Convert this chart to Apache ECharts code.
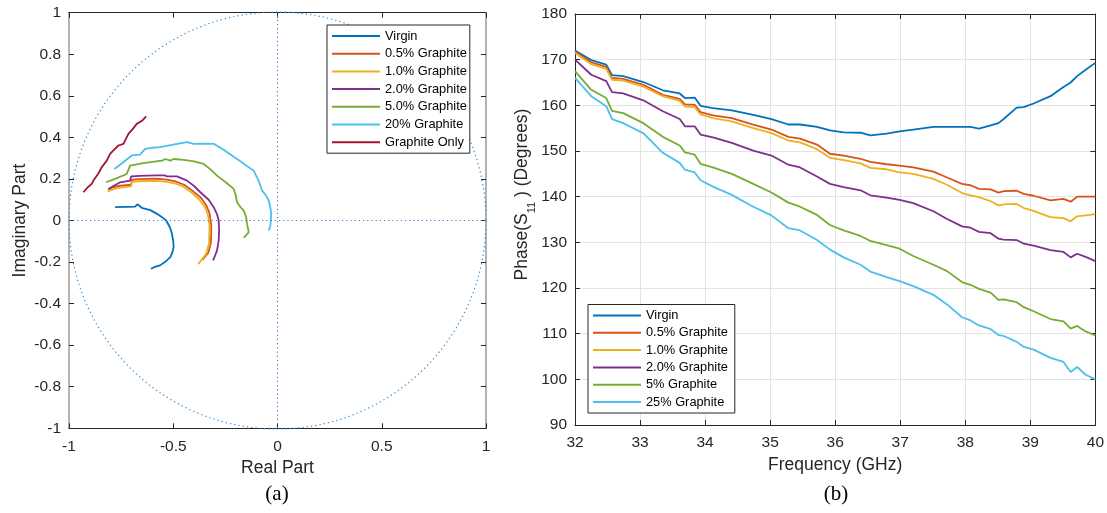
<!DOCTYPE html>
<html><head><meta charset="utf-8">
<script src="https://cdn.jsdelivr.net/npm/echarts@6/dist/echarts.min.js"></script>
<style>html,body{margin:0;padding:0;background:#fff}#c{width:1107px;height:513px}</style>
</head><body><div id="c"></div>
<script>
// ---------- (a) complex reflection coefficient: [real, imag] ----------
const virginZ = [[-0.779,0.064],[-0.72,0.066],[-0.683,0.067],[-0.672,0.078],[-0.651,0.061],[-0.610,0.050],[-0.578,0.032],[-0.552,0.015],[-0.534,0.0],[-0.515,-0.035],[-0.506,-0.064],[-0.500,-0.100],[-0.498,-0.128],[-0.505,-0.155],[-0.514,-0.176],[-0.540,-0.200],[-0.563,-0.216],[-0.585,-0.222],[-0.607,-0.232]];
const g05Z = [[-0.812,0.150],[-0.790,0.160],[-0.765,0.166],[-0.702,0.172],[-0.699,0.196],[-0.660,0.199],[-0.627,0.200],[-0.580,0.201],[-0.530,0.197],[-0.490,0.188],[-0.448,0.172],[-0.410,0.145],[-0.366,0.108],[-0.340,0.070],[-0.326,0.034],[-0.318,-0.024],[-0.318,-0.070],[-0.320,-0.110],[-0.332,-0.155],[-0.360,-0.190]];
const g10Z = [[-0.814,0.140],[-0.790,0.150],[-0.763,0.157],[-0.702,0.164],[-0.699,0.186],[-0.660,0.189],[-0.627,0.190],[-0.580,0.191],[-0.530,0.186],[-0.490,0.178],[-0.452,0.163],[-0.414,0.136],[-0.374,0.100],[-0.348,0.064],[-0.334,0.030],[-0.326,-0.024],[-0.327,-0.070],[-0.329,-0.112],[-0.342,-0.160],[-0.380,-0.210]];
const g20Z = [[-0.811,0.152],[-0.780,0.170],[-0.755,0.184],[-0.707,0.192],[-0.702,0.212],[-0.660,0.215],[-0.627,0.216],[-0.580,0.217],[-0.540,0.217],[-0.534,0.223],[-0.530,0.212],[-0.482,0.212],[-0.434,0.192],[-0.400,0.166],[-0.370,0.136],[-0.330,0.100],[-0.306,0.064],[-0.290,0.030],[-0.282,0.0],[-0.280,-0.050],[-0.282,-0.096],[-0.290,-0.144],[-0.300,-0.170],[-0.309,-0.192]];
const g50Z = [[-0.822,0.184],[-0.779,0.200],[-0.723,0.224],[-0.707,0.264],[-0.643,0.276],[-0.600,0.282],[-0.554,0.288],[-0.538,0.296],[-0.514,0.288],[-0.498,0.296],[-0.450,0.292],[-0.400,0.284],[-0.354,0.272],[-0.320,0.245],[-0.290,0.216],[-0.250,0.185],[-0.210,0.152],[-0.200,0.120],[-0.194,0.088],[-0.178,0.065],[-0.162,0.048],[-0.150,0.015],[-0.146,-0.016],[-0.138,-0.056],[-0.150,-0.070],[-0.162,-0.083]];
const g20pZ = [[-0.782,0.248],[-0.740,0.280],[-0.699,0.313],[-0.659,0.317],[-0.635,0.345],[-0.600,0.350],[-0.563,0.353],[-0.500,0.365],[-0.434,0.377],[-0.426,0.385],[-0.402,0.369],[-0.350,0.370],[-0.306,0.369],[-0.250,0.335],[-0.194,0.296],[-0.150,0.265],[-0.114,0.240],[-0.090,0.190],[-0.074,0.144],[-0.055,0.120],[-0.042,0.096],[-0.034,0.060],[-0.030,0.032],[-0.034,-0.024],[-0.042,-0.048]];
const gOnlyZ = [[-0.931,0.136],[-0.910,0.160],[-0.891,0.176],[-0.883,0.192],[-0.860,0.225],[-0.843,0.256],[-0.819,0.288],[-0.803,0.321],[-0.780,0.345],[-0.763,0.361],[-0.739,0.369],[-0.715,0.417],[-0.695,0.440],[-0.675,0.465],[-0.650,0.480],[-0.630,0.501]];
const namesA = ['Virgin','0.5% Graphite','1.0% Graphite','2.0% Graphite','5.0% Graphite','20% Graphite','Graphite Only'];

// ---------- (b) phase vs frequency ----------
const freq = [32,32.25,32.48,32.57,32.74,33.05,33.35,33.61,33.69,33.84,33.93,34.12,34.41,34.74,35.02,35.28,35.46,35.72,35.92,36.13,36.39,36.54,36.79,36.99,37.2,37.51,37.72,37.95,38.08,38.21,38.39,38.51,38.59,38.79,38.9,39.05,39.31,39.51,39.62,39.72,39.85,40];
const phVirgin = [172.0,169.9,168.9,166.6,166.4,165.1,163.3,162.6,161.6,161.7,159.9,159.4,158.9,157.9,157.0,155.8,155.8,155.3,154.5,154.1,154.0,153.4,153.8,154.3,154.7,155.3,155.3,155.3,155.3,154.9,155.6,156.1,157.0,159.5,159.6,160.4,162.0,164.0,165.0,166.4,167.8,169.3];
const ph05 = [171.8,169.4,168.4,166.0,165.8,164.5,162.3,161.4,160.2,160.1,158.5,157.8,157.2,155.8,154.7,153.1,152.7,151.4,149.4,149.0,148.3,147.6,147.1,146.8,146.4,145.5,144.2,142.8,142.5,141.7,141.6,140.9,141.2,141.3,140.6,140.2,139.2,139.5,138.9,140.0,140.0,140.0];
const ph10 = [171.5,169.0,168.0,165.6,165.4,164.1,162.0,161.0,159.7,159.6,158.0,157.2,156.5,155.0,153.9,152.3,151.9,150.4,148.5,148.0,147.3,146.3,146.0,145.3,145.0,143.9,142.6,140.8,140.3,139.9,139.0,138.1,138.3,138.4,137.5,136.9,135.5,135.3,134.6,135.7,135.9,136.2];
const ph20 = [170.0,166.7,165.3,162.9,162.6,161.1,158.7,157.0,155.4,155.4,153.6,153.0,151.8,150.1,149.0,147.0,146.4,144.4,142.8,142.1,141.4,140.3,139.8,139.3,138.6,136.8,135.1,133.5,133.2,132.3,132.0,130.8,130.6,130.5,129.7,129.3,128.3,127.9,126.7,127.5,126.8,125.9];
const ph50 = [167.5,163.4,161.6,158.8,158.3,156.1,153.1,151.2,149.7,149.2,147.2,146.4,145.0,142.8,140.9,138.7,137.8,136.0,133.8,132.6,131.4,130.3,129.4,128.6,127.0,125.1,123.7,121.3,120.7,119.8,119.0,117.4,117.5,116.9,115.8,114.9,113.2,112.7,111.1,111.7,110.5,109.6];
const ph250 = [166.0,162.0,159.8,157.0,156.1,153.9,149.6,147.4,145.9,145.3,143.6,142.2,140.4,137.8,135.9,133.1,132.6,130.5,128.4,126.7,125.1,123.6,122.4,121.5,120.4,118.5,116.4,113.6,112.9,111.8,111.0,109.7,109.5,108.2,107.1,106.5,104.7,103.8,101.6,102.7,101.0,100.0];
const namesB = ['Virgin','0.5% Graphite','1.0% Graphite','2.0% Graphite','5% Graphite','25% Graphite'];
const xTicksB = [32,40,1];
const yTicksB = [90,180,10];

const colors = ['#0072BD','#D95319','#EDB120','#7E2F8E','#77AC30','#4DBEEE','#A2142F'];
const FONT = '"Liberation Sans", Arial, sans-serif';
const TXT = '#262626';

const chart = echarts.init(document.getElementById('c'), null, {renderer:'canvas'});

const tick = {show:true, inside:true, length:5, lineStyle:{color:TXT}};
const lbl = {color:TXT, fontSize:15.5, fontFamily:FONT};
function mainAxis(extra){ return Object.assign({type:'value', axisTick:tick, axisLabel:lbl, splitLine:{show:false},
  nameTextStyle:{color:TXT, fontSize:17.5, fontFamily:FONT}}, extra); }
function boxAxis(extra){ return Object.assign({type:'value', axisTick:tick, axisLabel:{show:false}, splitLine:{show:false},
  axisLine:{show:true, onZero:false, lineStyle:{color:TXT}}}, extra); }

const seriesA = [virginZ,g05Z,g10Z,g20Z,g50Z,g20pZ,gOnlyZ].map((d,i)=>({
  type:'line', name:namesA[i], xAxisIndex:0, yAxisIndex:0, data:d, symbol:'none', smooth:false,
  lineStyle:{width:1.8, color:colors[i]}, itemStyle:{color:colors[i]}, z:3, animation:false
}));
seriesA[0].markLine = {silent:true, symbol:'none', label:{show:false}, animation:false,
  lineStyle:{color:'#2f86cf', type:[1.2,3], width:1.1}, data:[{xAxis:0},{yAxis:0}]};
seriesA.push({type:'custom', xAxisIndex:0, yAxisIndex:0, data:[[0,0]], silent:true, z:1, clip:false, animation:false,
  renderItem:function(params, api){
    const c = api.coord([0,0]); const e = api.coord([1,0]);
    return {type:'circle', shape:{cx:c[0], cy:c[1], r:e[0]-c[0]}, style:{fill:null, stroke:'#3a8fd3', lineWidth:1.2, lineDash:[1.3,3]}};
  }});

const phases = [phVirgin,ph05,ph10,ph20,ph50,ph250];
const seriesB = phases.map((v,i)=>({
  type:'line', name:namesB[i], xAxisIndex:2, yAxisIndex:2, data:freq.map((f,k)=>[f,v[k]]), symbol:'none',
  lineStyle:{width:1.8, color:colors[i]}, itemStyle:{color:colors[i]}, z:3, animation:false
}));

const legendCommon = {orient:'vertical', selectedMode:false, icon:'rect', itemWidth:48, itemHeight:2, backgroundColor:'#fff',
  borderColor:TXT, borderWidth:1, borderRadius:0, textStyle:{color:'#000', fontSize:12.8, fontFamily:FONT, lineHeight:14}};

chart.setOption({
  animation:false,
  backgroundColor:'#fff',
  grid:[
    {left:69, top:12.7, width:417, height:415.6, show:false},
    {left:575, top:14, width:521, height:411, show:false}
  ],
  legend:[
    Object.assign({}, legendCommon, {data:namesA, left:327, top:25, itemGap:3.7, padding:[4,3,4,5]}),
    Object.assign({}, legendCommon, {data:namesB, left:588, top:304.5, itemGap:3.3, padding:[4,7,4,5]})
  ],
  xAxis:[
    mainAxis({gridIndex:0, min:-1, max:1, interval:0.5, position:'bottom', axisLine:{show:true, onZero:false, lineStyle:{color:TXT}},
      axisLabel:Object.assign({}, lbl, {margin:10}), name:'Real Part', nameLocation:'middle', nameGap:30}),
    boxAxis({gridIndex:0, min:-1, max:1, interval:0.5, position:'top'}),
    mainAxis({gridIndex:1, min:xTicksB[0], max:xTicksB[1], interval:xTicksB[2], position:'bottom',
      axisLine:{show:true, onZero:false, lineStyle:{color:TXT}},
      axisLabel:Object.assign({}, lbl, {margin:10}), splitLine:{show:true, lineStyle:{color:'#e3e3e3', width:1}},
      name:'Frequency (GHz)', nameLocation:'middle', nameGap:30}),
    boxAxis({gridIndex:1, min:xTicksB[0], max:xTicksB[1], interval:xTicksB[2], position:'top'})
  ],
  yAxis:[
    mainAxis({gridIndex:0, min:-1, max:1, interval:0.2, position:'left', axisLine:{show:true, onZero:false, lineStyle:{color:'#9a9a9a', width:1.5}},
      axisLabel:Object.assign({}, lbl, {margin:8}), name:'Imaginary Part', nameLocation:'middle', nameGap:40}),
    boxAxis({gridIndex:0, min:-1, max:1, interval:0.2, position:'right', axisLine:{show:true, onZero:false, lineStyle:{color:'#9a9a9a', width:1.5}}}),
    mainAxis({gridIndex:1, min:yTicksB[0], max:yTicksB[1], interval:yTicksB[2], position:'left',
      axisLine:{show:true, onZero:false, lineStyle:{color:TXT}},
      axisLabel:Object.assign({}, lbl, {margin:8}), splitLine:{show:true, lineStyle:{color:'#e3e3e3', width:1}},
      name:'Phase(S{sub|11} ) (Degrees)', nameLocation:'middle', nameGap:36,
      nameTextStyle:{color:TXT, fontSize:17.5, fontFamily:FONT, padding:[0,0,0,50],
        rich:{sub:{fontSize:11, fontFamily:FONT, color:TXT, padding:[20,0,0,0]}}}}),
    boxAxis({gridIndex:1, min:yTicksB[0], max:yTicksB[1], interval:yTicksB[2], position:'right'})
  ],
  graphic:[
    {type:'text', x:277, y:494, style:{text:'(a)', font:'21px "Liberation Serif", "Times New Roman", serif', fill:'#000', textAlign:'center', textVerticalAlign:'middle'}},
    {type:'text', x:836, y:494, style:{text:'(b)', font:'21px "Liberation Serif", "Times New Roman", serif', fill:'#000', textAlign:'center', textVerticalAlign:'middle'}}
  ],
  series: seriesA.concat(seriesB)
});
</script></body></html>
